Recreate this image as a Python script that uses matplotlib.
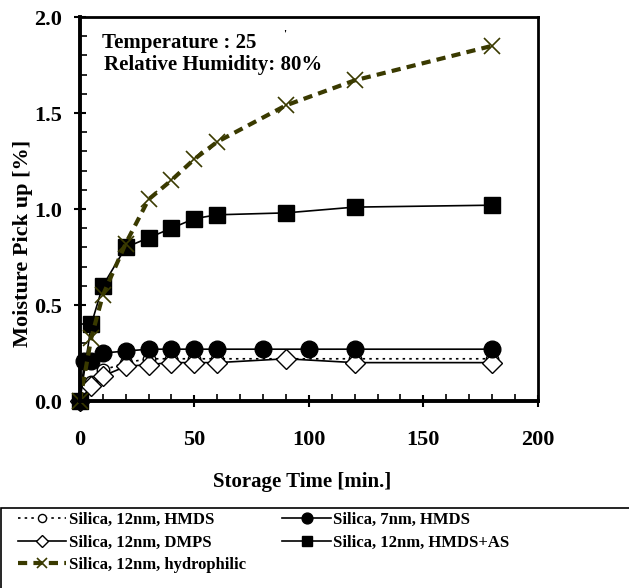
import numpy as np
import matplotlib.pyplot as plt
from matplotlib.ticker import MultipleLocator
from matplotlib.patches import Rectangle

plt.rcParams['font.family'] = 'Liberation Serif'
plt.rcParams['font.weight'] = 'bold'

# storage time [min.]
t_std = [0, 5, 10, 20, 30, 40, 50, 60, 90, 120, 180]
t_7nm = [0, 2, 5, 10, 20, 30, 40, 50, 60, 80, 100, 120, 180]

# moisture pick up [%]
hmds_12 = [0.0, 0.10, 0.16, 0.20, 0.22, 0.22, 0.22, 0.22, 0.22, 0.22, 0.22]
dmps_12 = [0.0, 0.08, 0.13, 0.18, 0.19, 0.20, 0.20, 0.20, 0.22, 0.20, 0.20]
hmds_7 = [0.0, 0.21, 0.21, 0.25, 0.26, 0.27, 0.27, 0.27, 0.27, 0.27, 0.27, 0.27, 0.27]
hmds_as = [0.0, 0.40, 0.60, 0.80, 0.85, 0.90, 0.95, 0.97, 0.98, 1.01, 1.02]
hydrophilic = [0.0, 0.33, 0.55, 0.82, 1.05, 1.15, 1.26, 1.35, 1.54, 1.67, 1.85]

olive = '#3a3a00'

fig = plt.figure(figsize=(6.29, 5.88), dpi=100)
ax = fig.add_axes([0.127, 0.318, 0.728, 0.653])

l1, = ax.plot(t_std, hmds_12, color='black', lw=1.2, ls=(0, (1.5, 2.5)), marker='o',
              mfc='white', mec='black', ms=9, label='Silica, 12nm, HMDS', clip_on=False)
l2, = ax.plot(t_std, dmps_12, color='black', lw=1.2, marker='D', mfc='white',
              mec='black', ms=10, label='Silica, 12nm, DMPS', clip_on=False)
l3, = ax.plot(t_7nm, hmds_7, color='black', lw=1.2, marker='o', mfc='black',
              ms=12, label='Silica, 7nm, HMDS', clip_on=False)
l4, = ax.plot(t_std, hmds_as, color='black', lw=1.2, marker='s', mfc='black',
              ms=11, label='Silica, 12nm, HMDS+AS', clip_on=False)
l5, = ax.plot(t_std, hydrophilic, color=olive, lw=3, ls=(0, (2.2, 1.5)), marker='x',
              mec=olive, mew=1.2, ms=11, label='Silica, 12nm, hydrophilic', clip_on=False)

ax.set_xlim(0, 200)
ax.set_ylim(0, 2.0)
ax.xaxis.set_major_locator(MultipleLocator(50))
ax.xaxis.set_minor_locator(MultipleLocator(10))
ax.yaxis.set_major_locator(MultipleLocator(0.5))
ax.yaxis.set_minor_locator(MultipleLocator(0.1))
ax.yaxis.set_major_formatter(plt.FormatStrFormatter('%.1f'))
ax.tick_params(which='major', direction='inout', length=8, width=1.5, labelsize=16, pad=9)
ax.tick_params(which='minor', direction='in', length=5, width=1.2)
ax.tick_params(axis='x', which='major', pad=17)
for s in ax.spines.values():
    s.set_linewidth(2)
ax.spines['left'].set_linewidth(2.8)
ax.spines['bottom'].set_linewidth(2.8)

ax.set_xlabel('Storage Time [min.]', fontsize=15, fontweight='bold', va='center')
ax.xaxis.set_label_coords(0.485, -0.211)
ax.set_ylabel('Moisture Pick up [%]', fontsize=16, fontweight='bold', va='center')
ax.yaxis.set_label_coords(-0.125, 0.41)

ax.text(0.048, 0.932, 'Temperature : 25', transform=ax.transAxes, fontsize=15,
        fontweight='bold', va='center')
ax.text(0.445, 0.955, "'", transform=ax.transAxes, fontsize=8, va='center')
ax.text(0.052, 0.876, 'Relative Humidity: 80%', transform=ax.transAxes, fontsize=15,
        fontweight='bold', va='center')

# legend box at the bottom, running off the right edge
fig.patches.append(Rectangle((0.0015, -0.05), 1.1, 0.186, transform=fig.transFigure,
                             fill=False, edgecolor='black', lw=1.2))
leg = fig.legend(handles=[l1, l2, l5, l3, l4], ncol=2, loc='upper left',
                 bbox_to_anchor=(0.007, 0.152), frameon=False,
                 fontsize=12, markerscale=0.65, handlelength=2.9, handletextpad=0.15,
                 labelspacing=0.4, borderpad=0.3, columnspacing=2.2)

fig.savefig('out.png', dpi=100)
